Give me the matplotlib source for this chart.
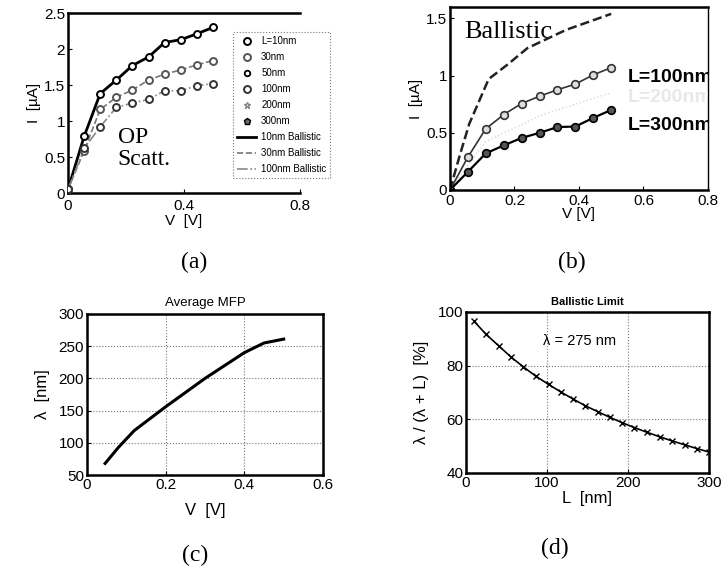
import matplotlib
matplotlib.use('Agg')
import matplotlib.pyplot as plt

plt.rcParams.update({'font.family': 'Liberation Sans',
                     'font.size': 10.0,
                     'axes.linewidth': 1.8,
                     'xtick.direction': 'in',
                     'ytick.direction': 'in',
                     'xtick.major.size': 3,
                     'ytick.major.size': 3,
                     })

# ---- data ----
v_pts = [0, 0.056, 0.111, 0.167, 0.222, 0.278, 0.333, 0.389, 0.444, 0.5]

# (a) I-V with OP scattering
i_10nm = [0.05, 0.79, 1.38, 1.57, 1.77, 1.89, 2.09, 2.13, 2.21, 2.30]
i_30nm = [0.05, 0.59, 1.16, 1.33, 1.43, 1.57, 1.65, 1.71, 1.78, 1.84]
i_100nm = [0.05, 0.62, 0.92, 1.19, 1.25, 1.30, 1.42, 1.42, 1.49, 1.52]

# (b)
v_ball = [0, 0.03, 0.06, 0.12, 0.18, 0.24, 0.30, 0.36, 0.42, 0.5]
i_ball = [0, 0.30, 0.58, 0.97, 1.10, 1.24, 1.32, 1.40, 1.46, 1.54]
i_b100 = [0, 0.29, 0.535, 0.66, 0.756, 0.82, 0.876, 0.926, 1.006, 1.07]
i_b200 = [0, 0.22, 0.42, 0.50, 0.57, 0.65, 0.70, 0.75, 0.80, 0.85]
i_b300 = [0, 0.16, 0.32, 0.39, 0.455, 0.50, 0.55, 0.555, 0.63, 0.70]

# (c) average MFP
v_mfp = [0.046, 0.08, 0.12, 0.2, 0.3, 0.4, 0.45, 0.5]
mfp = [68, 93, 119, 156, 200, 240, 255, 261]

# (d) ballistic limit
L_nm = [10, 25, 41, 56, 71, 86, 102, 117, 132, 147,
        163, 178, 193, 208, 224, 239, 254, 270, 285, 300]
ball_pct = [96.5, 91.6, 87.2, 83.1, 79.5, 76.1, 73.0, 70.2, 67.6, 65.1,
            62.8, 60.7, 58.7, 56.9, 55.1, 53.5, 52.0, 50.5, 49.1, 47.8]

serif = 'Liberation Serif'
tick_fs = 11

fig = plt.figure(figsize=(7.21, 5.68), dpi=100)

# ---------------- (a) ----------------
ax = fig.add_axes([0.0943, 0.6602, 0.3218, 0.3169])
ax.plot(v_pts, i_10nm, '-', color='black', lw=2.0, label='10nm Ballistic', zorder=3)
ax.plot(v_pts, i_30nm, '--', color='#777777', lw=1.2, label='30nm Ballistic', zorder=3)
ax.plot(v_pts, i_100nm, '-.', color='#888888', lw=1.2, label='100nm Ballistic', zorder=3)
ax.plot(v_pts, i_10nm, 'o', mfc='white', mec='black', mew=1.4, ms=5, ls='none', label='L=10nm', zorder=4)
ax.plot(v_pts, i_30nm, 'o', mfc='white', mec='#555555', mew=1.4, ms=5, ls='none', label='30nm', zorder=4)
ax.plot([], [], 'o', mfc='white', mec='black', mew=1.3, ms=4, ls='none', label='50nm')
ax.plot(v_pts, i_100nm, 'o', mfc='white', mec='#333333', mew=1.4, ms=5, ls='none', label='100nm', zorder=4)
ax.plot([], [], '*', mfc='white', mec='#888888', mew=1.0, ms=5, ls='none', label='200nm')
ax.plot([], [], 'p', mfc='#666666', mec='black', mew=1.0, ms=5, ls='none', label='300nm')
ax.set_xlim(0, 0.8)
ax.set_ylim(0, 2.5)
ax.set_xticks([0, 0.4, 0.8])
ax.set_xticklabels(['0', '0.4', '0.8'])
ax.set_yticks([0, 0.5, 1, 1.5, 2, 2.5])
ax.set_yticklabels(['0', '0.5', '1', '1.5', '2', '2.5'])
ax.spines['right'].set_visible(False)
ax.tick_params(axis='x', labelsize=tick_fs, pad=4)
ax.tick_params(axis='y', labelsize=tick_fs, pad=2)
ax.set_xlabel('V  [V]', fontsize=11, labelpad=1)
ax.set_ylabel('I  [µA]', fontsize=11, labelpad=2)
ax.text(0.172, 0.62, 'OP\nScatt.', family=serif, fontsize=17, va='center', ha='left', linespacing=1.05)
handles, labels = ax.get_legend_handles_labels()
order = [3, 4, 5, 6, 7, 8, 0, 1, 2]
leg = ax.legend([handles[k] for k in order], [labels[k] for k in order],
                loc='upper left', bbox_to_anchor=(0.69, 0.92), fontsize=7,
                labelspacing=0.62, handlelength=2.0, handletextpad=0.5,
                borderpad=0.4, frameon=True, fancybox=False)
leg.get_frame().set_linestyle(':')
leg.get_frame().set_edgecolor('#555555')
leg.get_frame().set_linewidth(0.8)
fig.text(0.269, 1 - 262 / 568, '(a)', family=serif, fontsize=17, ha='center', va='center')

# ---------------- (b) ----------------
bx = fig.add_axes([0.6241, 0.6655, 0.3578, 0.3222])
bx.plot(v_ball, i_ball, '--', color='#222222', lw=1.8)
bx.plot(v_pts, i_b200, ':', color='#d8d8d8', lw=1.0)
bx.plot(v_pts, i_b100, '-o', color='#333333', mfc='#dddddd', mec='#333333', mew=1.2, ms=5.5, lw=1.2)
bx.plot(v_pts, i_b300, '-o', color='black', mfc='#555555', mec='black', mew=1.2, ms=5.5, lw=1.6)
bx.set_xlim(0, 0.8)
bx.set_ylim(0, 1.6)
bx.set_xticks([0, 0.2, 0.4, 0.6, 0.8])
bx.set_xticklabels(['0', '0.2', '0.4', '0.6', '0.8'])
bx.set_yticks([0, 0.5, 1, 1.5])
bx.set_yticklabels(['0', '0.5', '1', '1.5'])
bx.tick_params(axis='x', labelsize=tick_fs, pad=3)
bx.tick_params(axis='y', labelsize=tick_fs, pad=2)
bx.spines['right'].set_linewidth(1.0)
bx.set_xlabel('V [V]', fontsize=11, labelpad=-1)
bx.set_ylabel('I  [µA]', fontsize=11, labelpad=2)
bx.text(0.045, 1.38, 'Ballistic', family=serif, fontsize=19, va='center', ha='left', zorder=1)
bx.text(0.55, 0.985, 'L=100nm', fontsize=14, fontweight='bold', va='center', ha='left', clip_on=True)
bx.text(0.55, 0.81, 'L=200nm', fontsize=14, fontweight='bold', va='center', ha='left', color='#e8e8e8', clip_on=True)
bx.text(0.55, 0.565, 'L=300nm', fontsize=14, fontweight='bold', va='center', ha='left', clip_on=True)
fig.text(572 / 721, 1 - 262 / 568, '(b)', family=serif, fontsize=17, ha='center', va='center')

# ---------------- (c) ----------------
cx = fig.add_axes([0.1207, 0.1637, 0.3273, 0.2835])
cx.plot(v_mfp, mfp, '-', color='black', lw=2.2)
cx.set_xlim(0, 0.6)
cx.set_ylim(50, 300)
cx.set_xticks([0, 0.2, 0.4, 0.6])
cx.set_xticklabels(['0', '0.2', '0.4', '0.6'])
cx.set_yticks([50, 100, 150, 200, 250, 300])
cx.grid(True, ls=':', color='#777777', lw=0.8)
cx.tick_params(labelsize=tick_fs, pad=2)
cx.set_title('Average MFP', fontsize=9.5, pad=6)
cx.set_xlabel('V  [V]', fontsize=12, labelpad=8)
cx.set_ylabel('λ  [nm]', fontsize=12, labelpad=6)
fig.text(195 / 721, 1 - 555 / 568, '(c)', family=serif, fontsize=17, ha='center', va='center')

# ---------------- (d) ----------------
dx = fig.add_axes([0.6463, 0.1673, 0.337, 0.2835])
dx.plot(L_nm, ball_pct, '-x', color='black', lw=1.2, ms=5, mew=1.0)
dx.set_xlim(0, 300)
dx.set_ylim(40, 100)
dx.set_xticks([0, 100, 200, 300])
dx.set_yticks([40, 60, 80, 100])
dx.grid(True, ls=':', color='#777777', lw=0.8)
dx.tick_params(labelsize=tick_fs, pad=2)
dx.set_title('Ballistic Limit', fontsize=8, fontweight='bold', pad=5)
dx.set_xlabel('L  [nm]', fontsize=12, labelpad=1)
dx.set_ylabel('λ / (λ + L)  [%]', fontsize=12, labelpad=6)
dx.text(95, 89, 'λ = 275 nm', fontsize=10.5, ha='left', va='center')
fig.text(555 / 721, 1 - 548 / 568, '(d)', family=serif, fontsize=17, ha='center', va='center')

fig.savefig('out.png', dpi=100)
